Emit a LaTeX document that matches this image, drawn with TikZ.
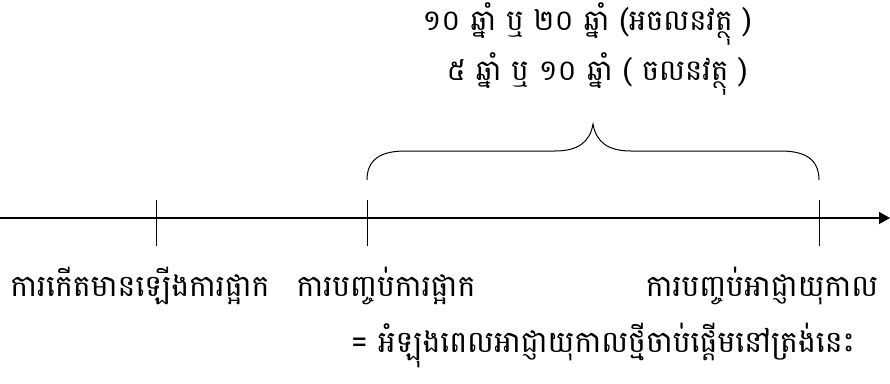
\documentclass[tikz,border=0pt]{standalone}
\usepackage{fontspec}
\newfontfamily\khmer[Script=Khmer]{Battambang}
\usetikzlibrary{arrows.meta}
\begin{document}
\begin{tikzpicture}[x=1pt,y=-1pt,
  lbl/.style={font=\khmer\fontsize{30}{34}\selectfont, inner sep=0pt, anchor=center},
  toplbl/.style={lbl, font=\khmer\fontsize{29}{33}\selectfont},
  axis/.style={line width=1.4pt, -{Triangle[length=11pt,width=12pt]}},
  tick/.style={line width=1pt},
  brace/.style={line width=1pt}]
\useasboundingbox (0,0) rectangle (890,383);
\coordinate (start) at (0,218);
\coordinate (end) at (890,218);
\coordinate (t1) at (156,218);
\coordinate (t2) at (367,218);
\coordinate (t3) at (819,218);
\draw[axis] (start) -- (end);
\foreach \t in {t1,t2,t3}{
  \draw[tick] ([yshift=18pt]\t) -- ([yshift=-28pt]\t);
}
% brace
\coordinate (tip) at (593,124);
\draw[brace] ([yshift=38pt]t2) .. controls (367,160) and (380,151) .. (405,151)
  -- (555,151) .. controls (578,151) and (590,142) .. (tip)
  .. controls (596,142) and (608,151) .. (631,151)
  -- (781,151) .. controls (806,151) and (819,160) .. ([yshift=38pt]t3);
\node[toplbl] (top1) at (587,24) {១០ ឆ្នាំ ឬ ២០ ឆ្នាំ (អចលនវត្ថុ )};
\node[toplbl] (top2) at (597,74) {៥ ឆ្នាំ ឬ ១០ ឆ្នាំ ( ចលនវត្ថុ )};
\node[lbl] (l1) at (140,286) {ការកើតមានឡើងការផ្អាក};
\node[lbl] (l2) at (386,286) {ការបញ្ចប់ការផ្អាក};
\node[lbl] (l3) at (762,286) {ការបញ្ចប់អាជ្ញាយុកាល};
\node[lbl] (l4) at (603,345) {= អំឡុងពេលអាជ្ញាយុកាលថ្មីចាប់ផ្ដើមនៅត្រង់នេះ};
\end{tikzpicture}
\end{document}
